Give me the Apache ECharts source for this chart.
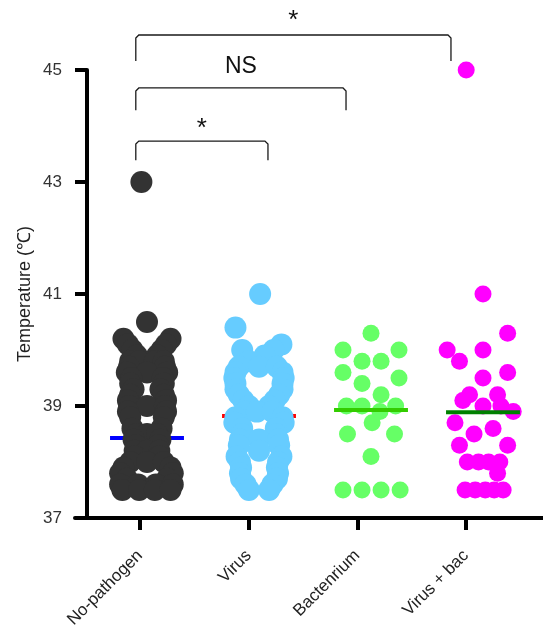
<!DOCTYPE html>
<html><head><meta charset="utf-8">
<script src="https://cdn.jsdelivr.net/npm/echarts@6/dist/echarts.min.js"></script>
<style>html,body{margin:0;padding:0;background:#fff}#c{width:543px;height:635px}</style>
</head><body><div id="c"></div>
<script>
// ---------- data ----------
const categories = ['No-pathogen', 'Virus', 'Bactenrium', 'Virus + bac'];
const yTicks = [37, 39, 41, 43, 45];

const noPathogenVals = [43.0, 40.5, 40.2, 40.2, 40.1, 40.1, 40.0, 40.0, 39.9, 39.9,
  39.8, 39.8, 39.8, 39.8, 39.7, 39.7, 39.6, 39.6, 39.6, 39.5, 39.5, 39.4, 39.4,
  39.3, 39.3, 39.2, 39.2, 39.1, 39.1, 39.0, 39.0, 39.0, 38.9, 38.9, 38.8, 38.8,
  38.6, 38.6, 38.5, 38.5, 38.5, 38.4, 38.4, 38.3, 38.3, 38.2, 38.2, 38.2, 38.1, 38.1,
  38.0, 38.0, 38.0, 37.9, 37.9, 37.8, 37.8, 37.7, 37.7, 37.6, 37.6, 37.6, 37.6,
  37.5, 37.5, 37.5, 37.5];
// horizontal scatter (fraction of the category spacing)
const noPathogenJitter = [-0.05, 0, -0.21, 0.21, -0.17, 0.17, -0.13, 0.13, -0.09, 0.09,
  -0.15, -0.07, 0.07, 0.15, -0.16, 0.16, -0.18, 0, 0.18, -0.14, 0.14, -0.15, 0.15,
  -0.12, 0.12, -0.15, 0.15, -0.17, 0.17, -0.16, 0, 0.16, -0.17, 0.17, -0.15, 0.15,
  -0.13, 0.13, -0.09, 0, 0.09, -0.12, 0.12, -0.10, 0.10, -0.11, 0, 0.11, -0.11, 0.11,
  -0.15, 0, 0.15, -0.21, 0.21, -0.24, 0.23, -0.18, 0.18, -0.24, -0.08, 0.08, 0.23,
  -0.22, -0.07, 0.07, 0.21];

const virusVals = [41.0, 40.4, 40.1, 40.0, 40.0, 39.9, 39.8, 39.7, 39.7, 39.7,
  39.6, 39.6, 39.5, 39.5, 39.4, 39.4, 39.3, 39.3, 39.2, 39.2, 39.1, 39.1, 39.0, 39.0,
  38.9, 38.9, 38.9, 38.8, 38.8, 38.7, 38.7, 38.6, 38.6, 38.5, 38.5, 38.4, 38.4, 38.4,
  38.3, 38.3, 38.2, 38.1, 38.1, 38.0, 38.0, 37.9, 37.9, 37.8, 37.8, 37.7, 37.7,
  37.6, 37.6, 37.5, 37.5];
const virusJitter = [0.01, -0.21, 0.20, -0.15, 0.13, 0.05, -0.09, -0.18, 0, 0.16,
  -0.21, 0.21, -0.22, 0.22, -0.21, 0.21, -0.21, 0.21, -0.18, 0.18, -0.14, 0.14, -0.09, 0.09,
  -0.12, -0.02, 0.12, -0.21, 0.21, -0.22, 0.22, -0.15, 0.15, -0.15, 0.15, -0.17, 0, 0.17,
  -0.18, 0.18, 0, -0.20, 0.20, -0.17, 0.17, -0.16, 0.16, -0.17, 0.17, -0.16, 0.16,
  -0.12, 0.12, -0.09, 0.09];

const bacteriumVals = [40.3, 40.0, 40.0, 39.8, 39.8, 39.6, 39.5, 39.4, 39.2, 39.0, 39.0,
  39.0, 38.9, 38.7, 38.5, 38.5, 38.1, 37.5, 37.5, 37.5, 37.5];
const bacteriumJitter = [0, -0.25, 0.25, -0.08, 0.09, -0.25, 0.25, -0.08, 0.09, -0.22, -0.08,
  0.22, 0.08, 0.01, -0.21, 0.21, 0, -0.25, -0.08, 0.09, 0.26];

const virusBacVals = [45.0, 41.0, 40.3, 40.0, 40.0, 39.8, 39.6, 39.5, 39.2, 39.2, 39.1,
  39.0, 39.0, 38.9, 38.7, 38.6, 38.5, 38.3, 38.3, 38.0, 38.0, 38.0, 38.0, 37.8,
  37.5, 37.5, 37.5, 37.5, 37.5];
const virusBacJitter = [-0.15, 0, 0.22, -0.32, 0, -0.21, 0.22, 0, -0.12, 0.13, -0.18,
  0, 0.16, 0.27, -0.25, 0.09, -0.08, -0.21, 0.22, -0.14, -0.04, 0.05, 0.15, 0.13,
  -0.16, -0.07, 0.02, 0.10, 0.18];

const groupMeans = [38.43, 38.82, 38.93, 38.89];

const comparisonLabels = ['*', 'NS', '*'];     // No-pathogen vs Virus, vs Bactenrium, vs Virus + bac
const comparisonTargets = [1, 2, 3];

// ---------- styling / layout ----------
const dotColors = ['#333333', '#66ccff', '#66ff66', '#ff00ff'];
const dotSizes = [22, 22, 17, 17];
const meanColors = ['#0000ff', '#ff0000', '#33cc00', '#008000'];
const meanOnTop = [false, false, true, true];
const bracketLayout = [
  { x1: -0.1, x2: 1.08, top: 43.73, leg: 43.39, labelDy: -12, fontSize: 26 },
  { x1: -0.1, x2: 1.777, top: 44.68, leg: 44.28, labelDy: -21, fontSize: 23 },
  { x1: -0.1, x2: 2.714, top: 45.625, leg: 45.16, labelDy: -14, fontSize: 26 }
];
const FONT = '"Liberation Sans", Arial, Helvetica, sans-serif';

const groups = [
  [noPathogenVals, noPathogenJitter],
  [virusVals, virusJitter],
  [bacteriumVals, bacteriumJitter],
  [virusBacVals, virusBacJitter]
];

const scatterSeries = groups.map((g, i) => ({
  type: 'scatter',
  xAxisIndex: 0, yAxisIndex: 0,
  symbol: 'circle',
  symbolSize: dotSizes[i],
  itemStyle: { color: dotColors[i], opacity: 1 },
  emphasis: { disabled: true },
  z: 2,
  data: g[0].map((v, k) => [i + g[1][k], v])
}));

function meanSeries(onTop) {
  return {
    type: 'custom',
    coordinateSystem: 'cartesian2d',
    xAxisIndex: 0, yAxisIndex: 0,
    z: onTop ? 3 : 1,
    silent: true,
    data: groupMeans.map((m, i) => [i, m]).filter((d, i) => meanOnTop[i] === onTop),
    renderItem: (params, api) => {
      const c = api.value(0), m = api.value(1);
      const p1 = api.coord([c - 0.33, m]);
      const p2 = api.coord([c + 0.33, m]);
      return {
        type: 'line',
        shape: { x1: p1[0], y1: p1[1], x2: p2[0], y2: p2[1] },
        style: { stroke: meanColors[c], lineWidth: 4 }
      };
    }
  };
}

const bracketSeries = {
  type: 'custom',
  coordinateSystem: 'cartesian2d',
  xAxisIndex: 0, yAxisIndex: 0,
  clip: false,
  silent: true,
  z: 5,
  data: comparisonTargets.map((t, i) => [i, t]),
  renderItem: (params, api) => {
    const i = api.value(0);
    const L = bracketLayout[i];
    const a = api.coord([L.x1, L.top]);
    const b = api.coord([L.x2, L.top]);
    const la = api.coord([L.x1, L.leg]);
    const lb = api.coord([L.x2, L.leg]);
    const r = 3;
    return {
      type: 'group',
      children: [
        {
          type: 'polyline',
          shape: { points: [[la[0], la[1]], [a[0], a[1] + r], [a[0] + r, a[1]],
                            [b[0] - r, b[1]], [b[0], b[1] + r], [lb[0], lb[1]]] },
          style: { stroke: '#1a1a1a', lineWidth: 1.3, fill: null }
        },
        {
          type: 'text',
          x: (a[0] + b[0]) / 2,
          y: a[1] + L.labelDy,
          style: {
            text: comparisonLabels[i],
            fontSize: L.fontSize,
            fontFamily: FONT,
            fill: '#111',
            align: 'center',
            verticalAlign: 'middle'
          }
        }
      ]
    };
  }
};

const option = {
  animation: false,
  backgroundColor: '#ffffff',
  textStyle: { fontFamily: FONT },
  grid: [
    { left: 87, right: 0, top: 70, bottom: 117, containLabel: false, outerBoundsMode: 'none' },
    { left: 75, right: 0, top: 70, bottom: 117, containLabel: false, outerBoundsMode: 'none' }
  ],
  xAxis: [
    { type: 'value', gridIndex: 0, min: -0.5357, max: 3.5357, show: false },
    {
      type: 'value', gridIndex: 1, min: -0.598, max: 3.709,
      axisLine: { show: true, onZero: false, lineStyle: { color: '#000', width: 4 } },
      axisTick: { show: true, length: 12, customValues: [0, 1, 2, 3], lineStyle: { color: '#000', width: 4 } },
      axisLabel: {
        show: true, customValues: [0, 1, 2, 3], rotate: 45, margin: 35,
        fontSize: 17, color: '#222', fontFamily: FONT,
        formatter: v => categories[Math.round(v)]
      },
      splitLine: { show: false }
    }
  ],
  yAxis: [
    {
      type: 'value', gridIndex: 0, min: yTicks[0], max: yTicks[yTicks.length - 1], interval: 2,
      axisLine: { show: true, onZero: false, lineStyle: { color: '#000', width: 4 } },
      axisTick: { show: true, length: 12, lineStyle: { color: '#000', width: 4 } },
      axisLabel: { fontSize: 17, color: '#333', margin: 25, fontFamily: FONT },
      splitLine: { show: false },
      name: 'Temperature (℃)',
      nameLocation: 'middle',
      nameGap: 53,
      nameMoveOverlap: false,
      nameTextStyle: { fontSize: 18, color: '#222', fontFamily: FONT }
    },
    { type: 'value', gridIndex: 1, min: 37, max: 45, show: false }
  ],
  series: [meanSeries(false), ...scatterSeries, meanSeries(true), bracketSeries]
};

const chart = echarts.init(document.getElementById('c'));
chart.setOption(option);
</script>
</body></html>
